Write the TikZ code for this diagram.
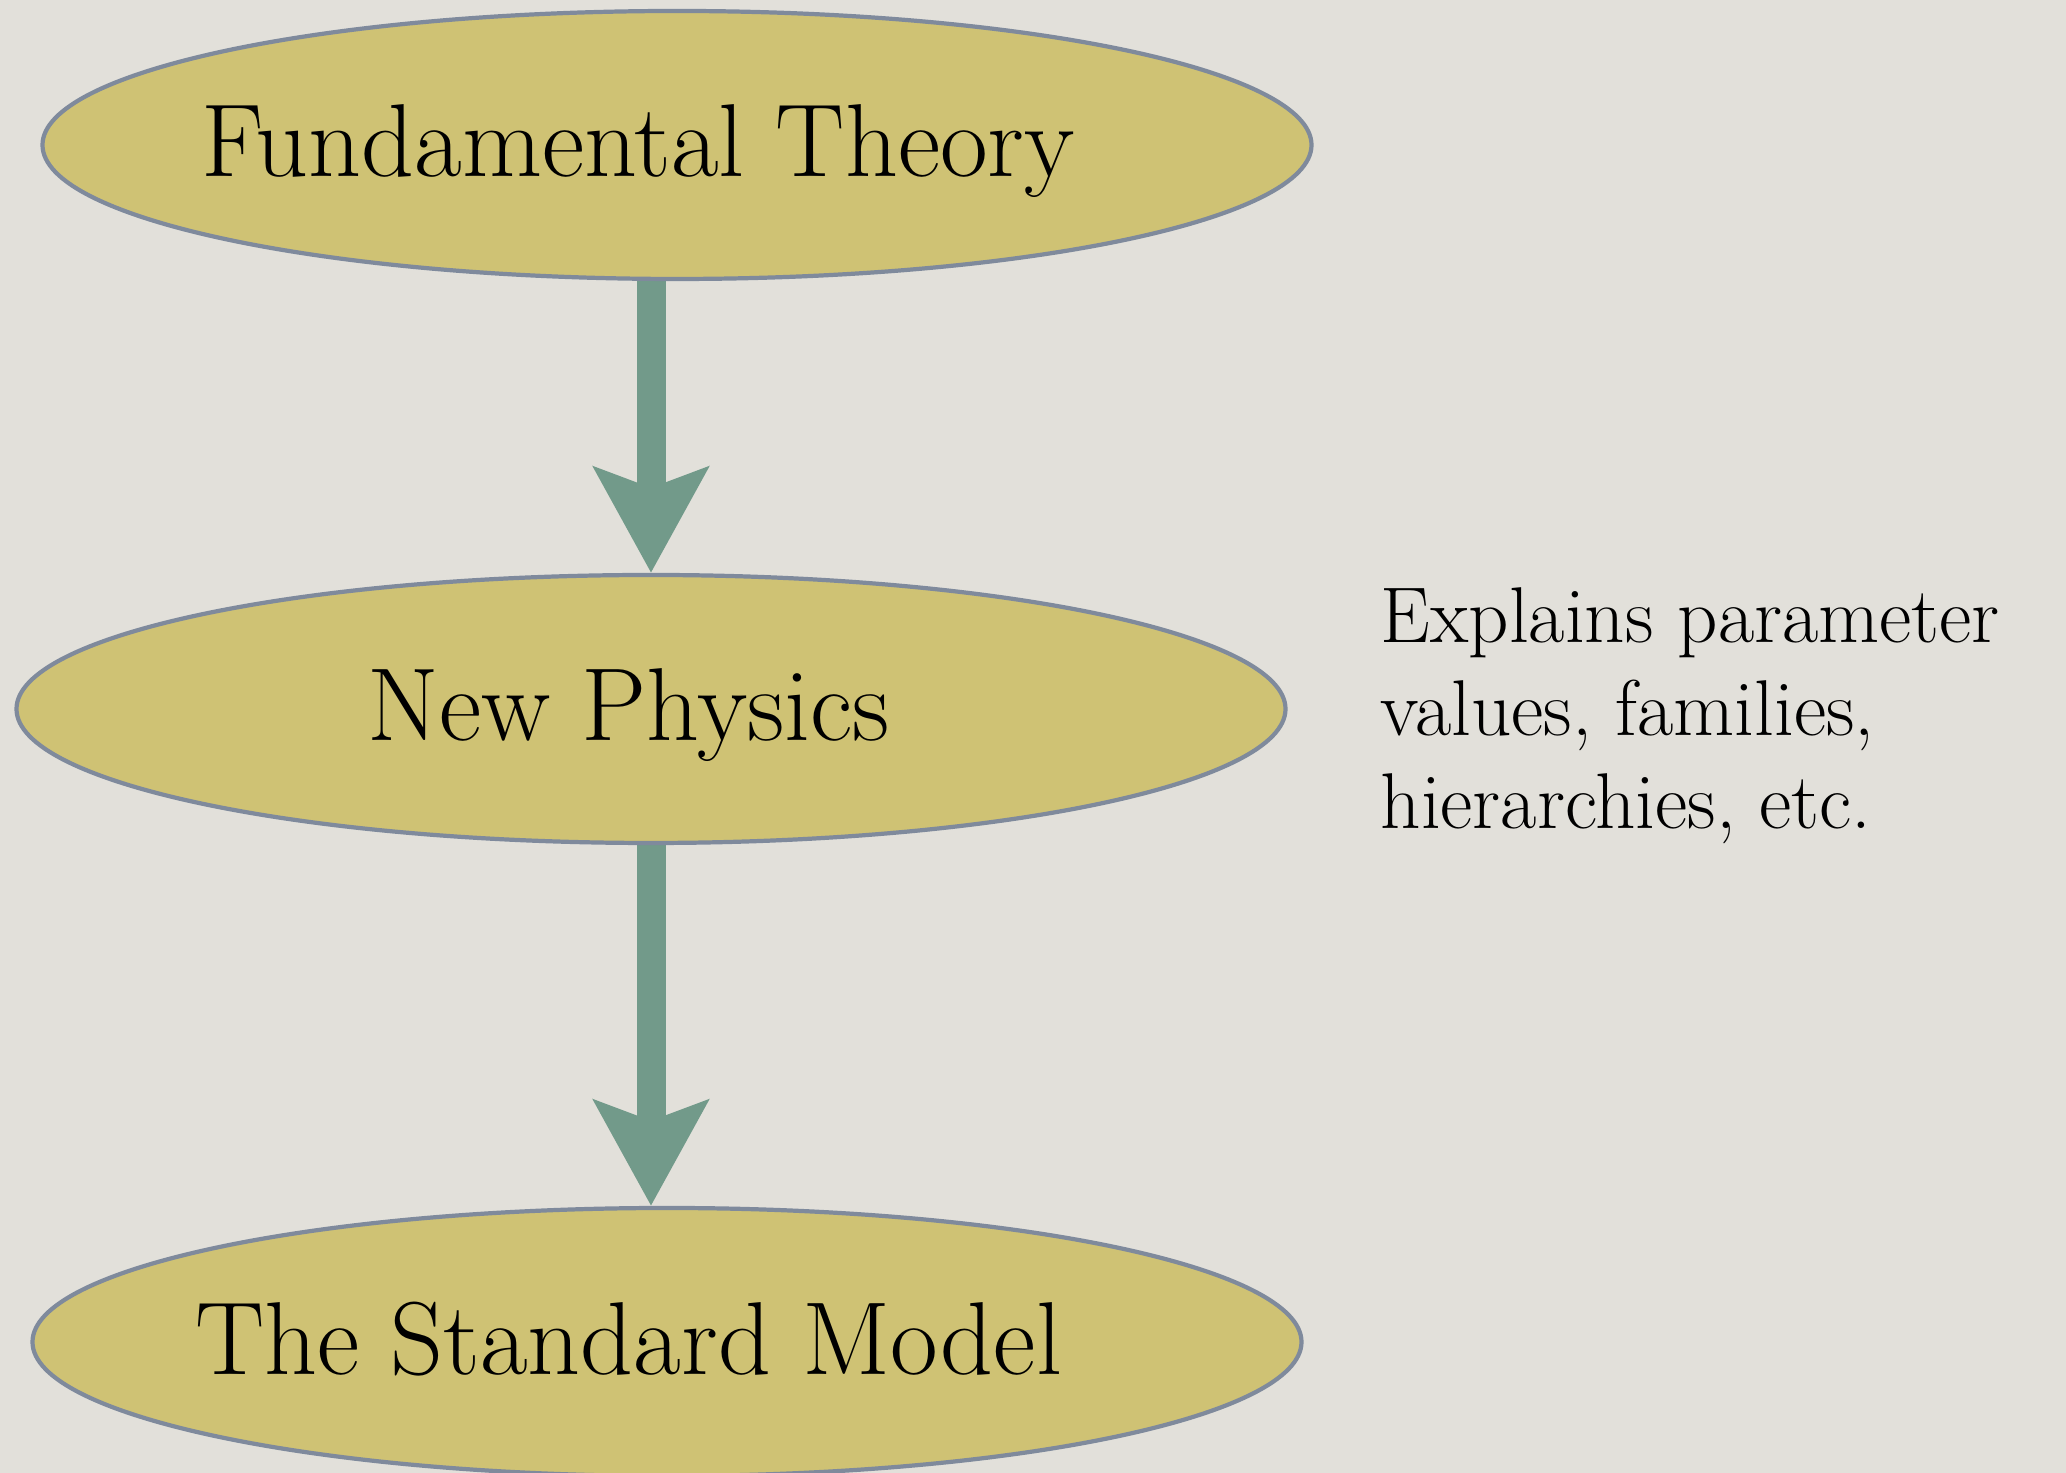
\documentclass[tikz,border=0pt]{standalone}
\usetikzlibrary{shapes.geometric, arrows.meta, backgrounds}
\definecolor{paper-bg}{HTML}{E2E0DA}
\definecolor{olive-fill}{HTML}{CFC274}
\definecolor{slate-edge}{HTML}{7F8A9C}
\definecolor{sage-arrow}{HTML}{729A8A}

\begin{document}
\begin{tikzpicture}[
    layer/.style={ellipse, draw=slate-edge, line width=1.2pt, fill=olive-fill,
                  minimum width=12.69cm, minimum height=2.68cm, inner sep=0pt},
    layertext/.style={anchor=base, inner sep=0pt, font=\fontsize{29.5}{35}\selectfont},
    flow/.style={draw=sage-arrow, line width=0.29cm,
                 -{Stealth[length=1.05cm, width=1.13cm, inset=0.2cm]}}
  ]
    % Diagram: three stacked theory levels, arrows pointing down.
    % Coordinates: (x, y), page 20.66cm x 14.73cm
    %   fundamental theory ellipse at (6.77,13.28)
    %   new physics ellipse at (6.51,7.64)
    %   standard model ellipse at (6.67,1.31), cut by the page bottom
    \useasboundingbox (0,0) rectangle (20.66,14.73);
    \clip (0,0) rectangle (20.66,14.73);
    \node[layer] (fund) at (6.77,13.28) {};
    \node[layer] (newph) at (6.51,7.64) {};
    \node[layer] (stdm) at (6.67,1.31) {};
    \node[layertext] (fundtext) at (6.38,12.96) {Fundamental Theory};
    \node[layertext] (newphtext) at (6.285,7.32) {New Physics};
    \node[layertext] (stdmtext) at (6.285,0.98) {The Standard Model};
    \node[anchor=north west, align=left, inner sep=0pt,
          font=\fontsize{22.5}{26.5}\selectfont] (note) at (13.80,8.86)
          {Explains parameter\\ values, families,\\ hierarchies, etc.};
    \begin{scope}[on background layer]
      \fill[paper-bg] (0,0) rectangle (20.66,14.73);
      \draw[flow] (fund.south -| newph.north) -- (newph.north);
      \draw[flow] (newph.south) -- (newph.south |- stdm.north);
    \end{scope}
  \end{tikzpicture}
\end{document}
